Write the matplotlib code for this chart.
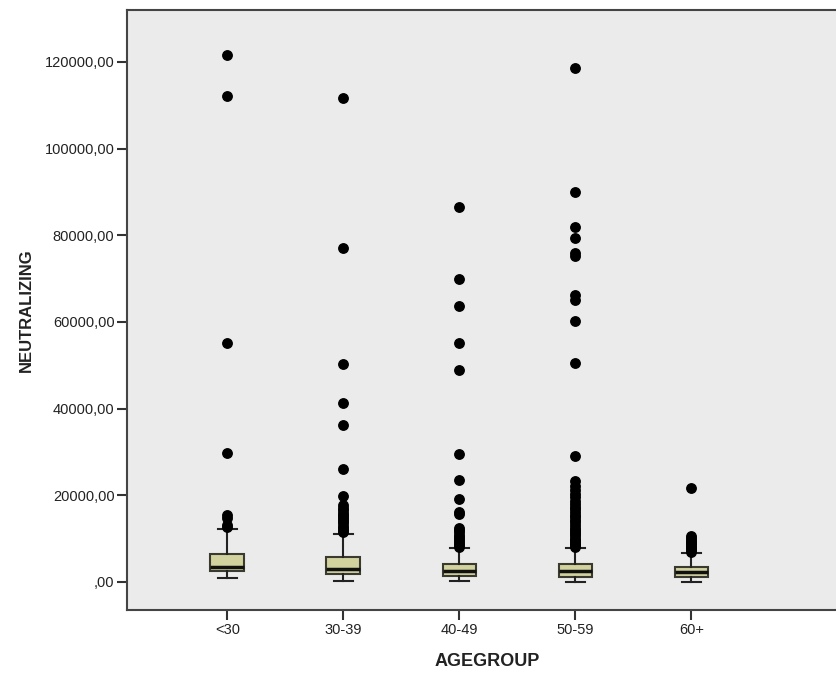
import matplotlib
matplotlib.use("Agg")
import matplotlib.pyplot as plt
from matplotlib.ticker import FuncFormatter

plt.rcParams['font.family'] = ['Liberation Sans', 'DejaVu Sans']

groups = ['<30', '30-39', '40-49', '50-59', '60+']

# box statistics
q1 = [2600, 1850, 1380, 1230, 1230]
med = [3460, 2900, 2610, 2540, 2230]
q3 = [6460, 5700, 4080, 4080, 3540]
whis_lo = [1000, 230, 80, 0, 0]
whis_hi = [12200, 11000, 7920, 7780, 6620]

out_lt30 = [121600, 112200, 55200, 29800, 15500, 14800, 13200, 12700]
out_30_39 = [111600, 77100, 50300, 41300, 36100, 26100, 19800, 17800, 17100,
             16500, 16000, 15500, 15000, 14500, 14000, 13500, 13000, 12500,
             12000, 11600]
out_40_49 = [86500, 69900, 63700, 55200, 48900, 29500, 23400, 19200, 16200,
             15700, 12400, 11900, 11400, 10900, 10400, 9900, 9400, 8900,
             8500, 8100]
out_50_59 = [118600, 90100, 81800, 79300, 75900, 75100, 66200, 65100, 60100,
             50500, 29100, 23300, 22200, 21200, 20300, 19500, 18700, 18000,
             17300, 16700, 16100, 15500, 14900, 14300, 13700, 13100, 12500,
             12000, 11500, 11000, 10500, 10000, 9600, 9200, 8800, 8400, 8000]
out_60 = [21600, 10500, 10100, 9700, 9300, 8900, 8500, 8100, 7700, 7300, 7000]
outliers = [out_lt30, out_30_39, out_40_49, out_50_59, out_60]

stats = []
for i, g in enumerate(groups):
    stats.append(dict(label=g, q1=q1[i], med=med[i], q3=q3[i],
                      whislo=whis_lo[i], whishi=whis_hi[i], fliers=outliers[i]))

fig = plt.figure(figsize=(8.37, 6.76), dpi=100)
ax = fig.add_axes([127 / 837, 66 / 676, 720 / 837, 600 / 676])
ax.set_facecolor('#ebebeb')

ax.bxp(stats, positions=range(1, 6), widths=0.29, capwidths=0.16,
       patch_artist=True,
       boxprops=dict(facecolor='#d2d29e', edgecolor='#3a3a30', linewidth=1.5),
       medianprops=dict(color='#111111', linewidth=2.5),
       whiskerprops=dict(color='#222222', linewidth=1.5),
       capprops=dict(color='#222222', linewidth=1.5),
       flierprops=dict(marker='o', markerfacecolor='black', markeredgecolor='black',
                       markersize=6.8, linestyle='none'))

ax.set_xlim(0.136, 6.34)
ax.set_ylim(-6500, 132000)
ax.set_yticks([0, 20000, 40000, 60000, 80000, 100000, 120000])
ax.yaxis.set_major_formatter(FuncFormatter(lambda v, p: f"{int(v)},00" if v else ",00"))

for s in ax.spines.values():
    s.set_color('#444444')
    s.set_linewidth(1.5)
ax.tick_params(axis='both', length=7, width=1.5, color='#333333',
               labelsize=10.5, labelcolor='#222222', pad=2)

ax.set_xlabel('AGEGROUP', fontsize=13, fontweight='bold', color='#222222', labelpad=12)
ax.set_ylabel('NEUTRALIZING', fontsize=12, fontweight='bold', color='#222222', labelpad=8)

fig.savefig('out.png', dpi=100)
